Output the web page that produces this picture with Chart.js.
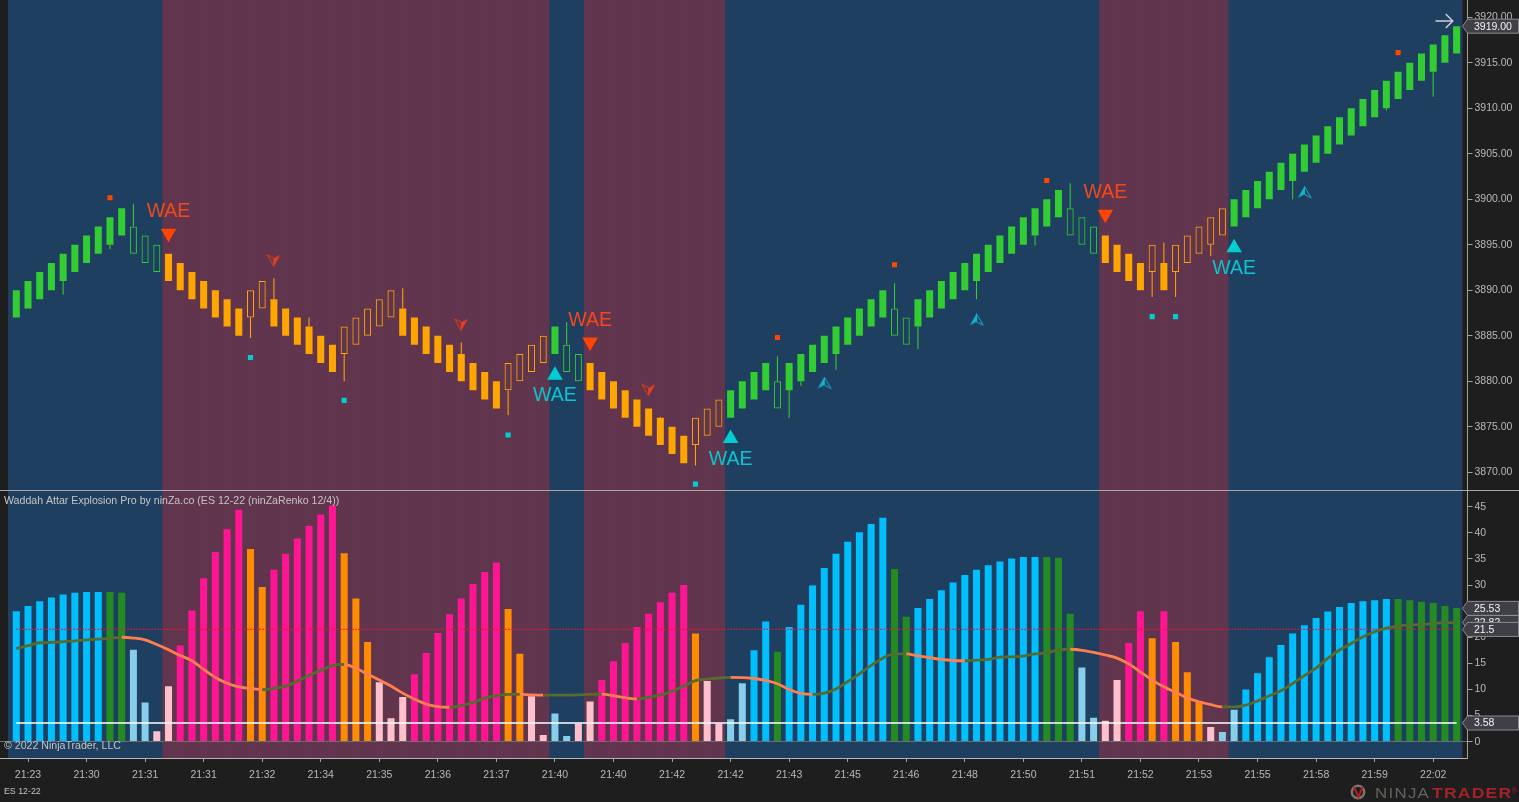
<!DOCTYPE html>
<html>
<head>
<meta charset="utf-8">
<title>Waddah Attar Explosion Pro</title>
<script src="https://cdn.jsdelivr.net/npm/chart.js@4"></script>
<style>
    html, body { margin: 0; padding: 0; background: #1e1e1e; overflow: hidden; }
    canvas { display: block; }
    #divider { height: 1px; background: #a8a8a8; }
</style>
</head>
<body>
<canvas id="pricePane" width="1519" height="490"></canvas>
<div id="divider"></div>
<canvas id="oscPane" width="1519" height="311"></canvas>
<script>
// ---- data ----
const barIndex = Array.from({ length: 124 }, (_, i) => i);

const tickBars = [1, 6, 11, 16, 21, 26, 31, 36, 41, 46, 51, 56, 61, 66, 71, 76, 81, 86, 91, 96, 101, 106, 111, 116, 121];
const timeLabels = ["21:23", "21:30", "21:31", "21:31", "21:32", "21:34", "21:35", "21:36", "21:37", "21:40", "21:40", "21:42", "21:42",
    "21:43", "21:45", "21:46", "21:48", "21:50", "21:51", "21:52", "21:53", "21:55", "21:58", "21:59", "22:02"];
const priceTicks = [3870, 3875, 3880, 3885, 3890, 3895, 3900, 3905, 3910, 3915, 3920];
const oscTicks = [0, 5, 10, 15, 20, 25, 30, 35, 40, 45];

const bodyLow = [3887, 3888, 3889, 3890, 3891, 3892, 3893, 3894, 3895, 3896,
    3894, 3893, 3892, 3891, 3890, 3889, 3888, 3887, 3886, 3885,
    3887, 3888, 3886, 3885, 3884, 3883, 3882, 3881, 3883, 3884,
    3885, 3886, 3887, 3885, 3884, 3883, 3882, 3881, 3880, 3879,
    3878, 3877, 3879, 3880, 3881, 3882, 3883, 3881, 3880, 3879,
    3878, 3877, 3876, 3875, 3874, 3873, 3872, 3871, 3873, 3874,
    3875, 3876, 3877, 3878, 3879, 3877, 3879, 3880, 3881, 3882,
    3883, 3884, 3885, 3886, 3887, 3885, 3884, 3886, 3887, 3888,
    3889, 3890, 3891, 3892, 3893, 3894, 3895, 3896, 3897, 3898,
    3896, 3895, 3894, 3893, 3892, 3891, 3890, 3892, 3890, 3892,
    3893, 3894, 3895, 3896, 3897, 3898, 3899, 3900, 3901, 3902,
    3903, 3904, 3905, 3906, 3907, 3908, 3909, 3910, 3911, 3912,
    3913, 3914, 3915, 3916];
const bodyHigh = [3890, 3891, 3892, 3893, 3894, 3895, 3896, 3897, 3898, 3899,
    3897, 3896, 3895, 3894, 3893, 3892, 3891, 3890, 3889, 3888,
    3890, 3891, 3889, 3888, 3887, 3886, 3885, 3884, 3886, 3887,
    3888, 3889, 3890, 3888, 3887, 3886, 3885, 3884, 3883, 3882,
    3881, 3880, 3882, 3883, 3884, 3885, 3886, 3884, 3883, 3882,
    3881, 3880, 3879, 3878, 3877, 3876, 3875, 3874, 3876, 3877,
    3878, 3879, 3880, 3881, 3882, 3880, 3882, 3883, 3884, 3885,
    3886, 3887, 3888, 3889, 3890, 3888, 3887, 3889, 3890, 3891,
    3892, 3893, 3894, 3895, 3896, 3897, 3898, 3899, 3900, 3901,
    3899, 3898, 3897, 3896, 3895, 3894, 3893, 3895, 3893, 3895,
    3896, 3897, 3898, 3899, 3900, 3901, 3902, 3903, 3904, 3905,
    3906, 3907, 3908, 3909, 3910, 3911, 3912, 3913, 3914, 3915,
    3916, 3917, 3918, 3919];
// U solid green, u hollow green, D solid orange, d hollow orange
const candleKinds = "UUUUUUUUUU uuu DDDDDDD dd DDDDDD ddddd DDDDDDDDD dddd U uu DDDDDDDDD ddd UUUU u UUUUUUUUU uu UUUUUUUUUUUUU uuu DDDD d D ddddd UUUUUUUUUUUUUUUUUUUU".replace(/ /g, "");

const wickUpBars = [10, 22, 25, 33, 38, 47, 55, 65, 75, 90, 98];
const wickUpTips = [3899.5, 3891.3, 3887, 3890.2, 3884.25, 3886.5, 3876.1, 3882.75, 3890.75, 3901.75, 3895.25];
const wickDownBars = [4, 8, 20, 28, 42, 58, 66, 67, 70, 77, 82, 87, 97, 99, 102, 109, 117, 121];
const wickDownTips = [3889.5, 3894.5, 3884.75, 3880, 3876.25, 3870.75, 3876, 3879.5, 3881.25, 3883.5, 3889, 3894.9, 3889.25, 3889.25, 3893.75, 3900, 3909.75, 3911.25];

// maroon stretches, first and last bar
const bearBands = [[13, 45], [49, 60], [93, 103]];

const redDotBars = [8, 65, 75, 88, 118];
const redDotPrices = [3900.15, 3884.8, 3892.8, 3902.05, 3916.1];
const cyanDotBars = [20, 28, 42, 58, 97, 99];
const cyanDotPrices = [3882.6, 3877.9, 3874.1, 3868.7, 3887.1, 3887.1];

const waeSellBars = [13, 49, 93];
const waeSellPrices = [3896.25, 3884.3, 3898.35];
const waeSellTextPrices = [3898.6, 3886.65, 3900.7];
const waeBuyBars = [46, 61, 104];
const waeBuyPrices = [3880.65, 3873.7, 3894.65];
const waeBuyTextPrices = [3878.4, 3871.4, 3892.4];

const arrowDownBars = [22, 38, 54];
const arrowDownPrices = [3893.3, 3886.25, 3879.05];
const arrowUpBars = [69, 82, 110];
const arrowUpPrices = [3879.8, 3886.75, 3900.75];

const histValues = [25.0, 26.0, 26.9, 27.6, 28.2, 28.5, 28.65, 28.65, 28.65, 28.5,
    17.6, 7.5, 2.0, 10.6, 18.4, 25.1, 31.3, 36.3, 40.7, 44.4,
    36.9, 29.6, 32.9, 36.0, 38.9, 41.35, 43.5, 45.2, 36.1, 27.4,
    19.1, 11.4, 4.5, 8.55, 12.9, 17.0, 20.8, 24.4, 27.4, 30.2,
    32.5, 34.3, 25.4, 16.85, 8.7, 1.3, 5.4, 1.1, 3.5, 7.7,
    11.8, 15.4, 18.9, 21.95, 24.5, 26.7, 28.5, 30.0, 20.7, 11.6,
    3.5, 4.3, 11.2, 17.5, 23.0, 17.2, 21.95, 26.2, 29.9, 33.25,
    36.0, 38.3, 40.1, 41.7, 42.9, 33.05, 23.9, 25.6, 27.3, 29.0,
    30.5, 31.9, 32.9, 33.8, 34.5, 35.1, 35.35, 35.35, 35.35, 35.2,
    24.5, 14.2, 4.6, 4.0, 11.8, 18.9, 25.0, 19.8, 25.0, 19.1,
    13.3, 7.65, 2.8, 1.85, 6.1, 10.0, 13.1, 16.15, 18.5, 20.7,
    22.3, 23.7, 24.95, 25.8, 26.55, 26.9, 27.1, 27.3, 27.3, 27.1,
    26.8, 26.55, 26.0, 25.6];
// B deep sky blue, S sky blue, G forest green, D deep pink, P pink, O dark orange
const histKinds = "BBBBBBBB GG SS PP DDDDDD OO DDDDDD OOO PPP DDDDDDDD OO PP SS PP DDDDDDDD O PP SS BB G BBBBBBBBB GG BBBBBBBBBBB GGG SS PP DD O D OOO P SS BBBBBBBBBBBBB GGGGGG".replace(/ /g, "");

const signalLine = [17.8, 18.4, 18.95, 19.0, 19.15, 19.3, 19.5, 19.65, 19.8, 20.0,
    19.85, 19.5, 18.6, 17.6, 16.5, 15.5, 13.85, 12.3, 11.2, 10.5,
    10.2, 9.95, 10.2, 10.65, 11.6, 12.7, 13.65, 14.55, 14.8, 14.05,
    12.95, 11.8, 10.65, 9.3, 8.15, 7.2, 6.7, 6.6, 6.9, 7.5,
    8.35, 8.8, 9.05, 9.05, 8.95, 8.9, 8.9, 8.9, 8.95, 9.05,
    9.1, 8.8, 8.4, 8.2, 8.5, 8.9, 9.65, 10.65, 11.7, 12.0,
    12.2, 12.3, 12.28, 12.1, 11.75, 11.1, 10.0, 9.25, 9.05, 9.3,
    10.1, 11.5, 13.0, 14.6, 16.0, 16.8, 16.8, 16.45, 16.1, 15.75,
    15.55, 15.5, 15.6, 15.75, 16.2, 16.25, 16.4, 16.8, 17.0, 17.6,
    17.7, 17.5, 17.1, 16.6, 16.0, 14.9, 13.35, 11.8, 10.5, 9.45,
    8.4, 7.65, 7.1, 6.65, 6.65, 7.0, 7.8, 8.8, 9.75, 11.15,
    12.65, 14.1, 15.95, 17.55, 18.8, 20.1, 21.05, 21.75, 22.15, 22.35,
    22.45, 22.6, 22.8, 22.8];
const deadZone = 3.58;
const levelLine = 21.5;

const lastPrice = 3919;
const oscFlagValues = [25.53, 22.82, 21.5, 3.58];
const oscFlagLabels = ["25.53", "22.82", "21.5", "3.58"];

// ---- look ----
const FONT = "'Liberation Sans', Arial, sans-serif";
const TEXT_COLOR = "#b8b8b8";
const AXIS_COLOR = "#a0a0a0";
const BLUE_BG = "#1f3f61";
const MAROON_BG = "#61354d";
const SELL_RED = "#ff4500";
const BUY_CYAN = "#00ced1";

// window of bar numbers shown on the x scale; the plot fill stops short of the axis line
const xRange = { min: -1.392, max: 123.93 };
const plotEdges = { left: -0.71, right: 123.5 };
const priceRange = { min: 3868.05, max: 3921.88 };
const oscRange = { min: -3.12, max: 48 };

const candleColors = { U: "#32cd32", u: "#32cd32", D: "#ffa500", d: "#ffa500" };
const histColors = { B: "#00bfff", S: "#87ceeb", G: "#228b22", D: "#ff1493", P: "#ffc0cb", O: "#ff8c00" };

function bandData(low, high) {
    return barIndex.map(i => bearBands.some(b => i >= b[0] && i <= b[1]) ? [low, high] : null);
}

function wickData(bars, tips, edge) {
    return barIndex.map(i => {
        const at = bars.indexOf(i);
        return at < 0 ? null : [tips[at], edge[i]];
    });
}

function points(bars, values) {
    return bars.map((bar, i) => ({ x: bar, y: values[i] }));
}

// small paper plane marker, used as a point style
function arrowSprite(color) {
    const c = document.createElement("canvas");
    c.width = 15;
    c.height = 13;
    const g = c.getContext("2d");
    g.fillStyle = color;
    g.strokeStyle = color;
    g.lineWidth = 1;
    g.beginPath();
    g.moveTo(7.5, 0.5);
    g.lineTo(0.8, 12);
    g.lineTo(7.5, 8.5);
    g.closePath();
    g.fill();
    g.beginPath();
    g.moveTo(7.5, 0.5);
    g.lineTo(14.2, 12);
    g.lineTo(7.5, 8.5);
    g.closePath();
    g.stroke();
    return c;
}

// blue fill behind the bands
const paneBackground = {
    id: "paneBackground",
    beforeDraw(chart) {
        const { ctx, chartArea, scales } = chart;
        const left = scales.x.getPixelForValue(plotEdges.left);
        const right = scales.x.getPixelForValue(plotEdges.right);
        ctx.save();
        ctx.fillStyle = BLUE_BG;
        ctx.fillRect(left, chartArea.top, right - left, chartArea.bottom - chartArea.top);
        ctx.restore();
    }
};

function drawFlag(ctx, y, text) {
    ctx.save();
    ctx.beginPath();
    ctx.moveTo(1462.5, y);
    ctx.lineTo(1467.5, y - 7);
    ctx.lineTo(1518.5, y - 7);
    ctx.lineTo(1518.5, y + 7);
    ctx.lineTo(1467.5, y + 7);
    ctx.closePath();
    ctx.fillStyle = "#3f3f47";
    ctx.fill();
    ctx.strokeStyle = "#8c8c8c";
    ctx.lineWidth = 1;
    ctx.stroke();
    ctx.fillStyle = "#f2f2f2";
    ctx.font = "10.5px " + FONT;
    ctx.textAlign = "left";
    ctx.textBaseline = "middle";
    ctx.fillText(text, 1474, y + 0.5);
    ctx.restore();
}

const priceOverlay = {
    id: "priceOverlay",
    afterDraw(chart) {
        const { ctx, scales } = chart;
        ctx.save();
        ctx.font = "19.5px " + FONT;
        ctx.textAlign = "center";
        ctx.textBaseline = "middle";
        ctx.fillStyle = "#f4481c";
        waeSellBars.forEach((bar, i) => ctx.fillText("WAE", scales.x.getPixelForValue(bar), scales.y.getPixelForValue(waeSellTextPrices[i])));
        ctx.fillStyle = "#0cc4d0";
        waeBuyBars.forEach((bar, i) => ctx.fillText("WAE", scales.x.getPixelForValue(bar), scales.y.getPixelForValue(waeBuyTextPrices[i])));

        // arrow on the last bar
        const ax0 = scales.x.getPixelForValue(121.2);
        const ax1 = scales.x.getPixelForValue(122.67);
        const ay = scales.y.getPixelForValue(3919.57);
        ctx.strokeStyle = "#d0d0d0";
        ctx.lineWidth = 1.5;
        ctx.beginPath();
        ctx.moveTo(ax0, ay);
        ctx.lineTo(ax1, ay);
        ctx.moveTo(ax1 - 7, ay - 7);
        ctx.lineTo(ax1, ay);
        ctx.lineTo(ax1 - 7, ay + 7);
        ctx.stroke();
        ctx.restore();

        drawFlag(ctx, scales.y.getPixelForValue(lastPrice), lastPrice.toFixed(2));
    }
};

// wordmark letters are wide, so the text is stretched sideways
function drawWordmark(ctx, text, x, y, font, stretch, spacing, color) {
    ctx.save();
    ctx.translate(x, y);
    ctx.scale(stretch, 1);
    ctx.font = font;
    ctx.letterSpacing = spacing;
    ctx.fillStyle = color;
    ctx.fillText(text, 0, 0);
    ctx.restore();
}

const oscOverlay = {
    id: "oscOverlay",
    afterDraw(chart) {
        const { ctx, scales, canvas } = chart;
        oscFlagValues.forEach((v, i) => drawFlag(ctx, scales.y.getPixelForValue(v), oscFlagLabels[i]));

        ctx.save();
        ctx.textAlign = "left";
        ctx.textBaseline = "middle";
        ctx.fillStyle = "#c4c4c4";
        ctx.font = "10.6px " + FONT;
        ctx.fillText("Waddah Attar Explosion Pro by ninZa.co (ES 12-22 (ninZaRenko 12/4))", 4, 10);
        ctx.fillText("\u00a9 2022 NinjaTrader, LLC", 4, 255);
        ctx.font = "8.8px " + FONT;
        ctx.fillText("ES 12-22", 4, 301);

        // NinjaTrader mark, bottom right
        const markY = canvas.height - 9;
        ctx.strokeStyle = "#7d7468";
        ctx.lineWidth = 2.5;
        ctx.beginPath();
        ctx.arc(1358, markY - 1, 6.2, 0, Math.PI * 2);
        ctx.stroke();
        ctx.strokeStyle = "#b02028";
        ctx.lineWidth = 2;
        ctx.beginPath();
        ctx.moveTo(1354, markY - 6);
        ctx.lineTo(1358.5, markY + 4);
        ctx.lineTo(1362.5, markY - 6);
        ctx.stroke();
        drawWordmark(ctx, "NINJA", 1375, markY + 1, "14px " + FONT, 1.2, "1.1px", "#66625e");
        drawWordmark(ctx, "TRADER", 1432, markY + 1, "bold 14px " + FONT, 1.25, "1px", "#a3222a");
        ctx.fillStyle = "#a3222a";
        ctx.font = "7px " + FONT;
        ctx.fillText("\u00ae", 1512, markY - 2);
        ctx.restore();
    }
};

function baseOptions(scales) {
    return {
        responsive: false,
        animation: false,
        events: [],
        layout: { padding: 0, autoPadding: false },
        plugins: { legend: { display: false }, tooltip: { enabled: false }, title: { display: false } },
        scales: scales
    };
}

// y axis on the right with a fixed width, so both panes line up
function rightAxis(range, tickValues, format, extraGrid) {
    return {
        position: "right",
        min: range.min,
        max: range.max,
        afterBuildTicks: scale => { scale.ticks = tickValues.map(v => ({ value: v })); },
        afterFit: scale => {
            scale.width = 51.5;
            scale.paddingTop = 0;
            scale.paddingBottom = 0;
        },
        border: { color: AXIS_COLOR, z: 2 },
        grid: Object.assign({ drawOnChartArea: false, tickLength: 5, tickColor: AXIS_COLOR }, extraGrid),
        ticks: {
            color: TEXT_COLOR,
            padding: 2,
            font: { family: FONT, size: 10.5 },
            callback: format
        }
    };
}

// ---- price pane ----
const candleBar = { categoryPercentage: 1, grouped: false };

const priceChart = new Chart(document.getElementById("pricePane"), {
    data: {
        labels: barIndex,
        datasets: [
            {
                type: "bar", order: 20, ...candleBar, barPercentage: 1,
                data: bandData(priceRange.min, priceRange.max),
                backgroundColor: MAROON_BG
            },
            {
                type: "bar", order: 12, ...candleBar, barPercentage: 0.09,
                data: wickData(wickUpBars, wickUpTips, bodyHigh),
                backgroundColor: barIndex.map(i => candleColors[candleKinds[i]])
            },
            {
                type: "bar", order: 11, ...candleBar, barPercentage: 0.09,
                data: wickData(wickDownBars, wickDownTips, bodyLow),
                backgroundColor: barIndex.map(i => candleColors[candleKinds[i]])
            },
            {
                type: "bar", order: 10, ...candleBar, barPercentage: 0.6,
                data: barIndex.map(i => [bodyLow[i], bodyHigh[i]]),
                backgroundColor: barIndex.map(i => candleKinds[i] === "U" ? candleColors.U : (candleKinds[i] === "D" ? candleColors.D : "transparent")),
                borderColor: barIndex.map(i => candleColors[candleKinds[i]]),
                borderWidth: barIndex.map(i => "ud".includes(candleKinds[i]) ? 1 : 0),
                borderSkipped: false
            },
            {
                type: "scatter", order: 5, data: points(redDotBars, redDotPrices),
                pointStyle: "rect", pointRadius: 3.6, pointBorderWidth: 0, pointBackgroundColor: SELL_RED
            },
            {
                type: "scatter", order: 5, data: points(cyanDotBars, cyanDotPrices),
                pointStyle: "rect", pointRadius: 3.6, pointBorderWidth: 0, pointBackgroundColor: BUY_CYAN
            },
            {
                type: "scatter", order: 4, data: points(waeSellBars, waeSellPrices),
                pointStyle: "triangle", rotation: 180, pointRadius: 9, pointBorderWidth: 0, pointBackgroundColor: SELL_RED
            },
            {
                type: "scatter", order: 4, data: points(waeBuyBars, waeBuyPrices),
                pointStyle: "triangle", pointRadius: 9, pointBorderWidth: 0, pointBackgroundColor: BUY_CYAN
            },
            {
                type: "scatter", order: 3, data: points(arrowDownBars, arrowDownPrices),
                pointStyle: arrowSprite("#e8401c"), rotation: 180, pointRadius: 7
            },
            {
                type: "scatter", order: 3, data: points(arrowUpBars, arrowUpPrices),
                pointStyle: arrowSprite("#12b5cc"), pointRadius: 7
            }
        ]
    },
    options: baseOptions({
        x: { type: "linear", display: false, offset: false, min: xRange.min, max: xRange.max },
        y: rightAxis(priceRange, priceTicks, v => v.toFixed(2))
    }),
    plugins: [paneBackground, priceOverlay]
});

// ---- oscillator pane ----
const oscChart = new Chart(document.getElementById("oscPane"), {
    data: {
        labels: barIndex,
        datasets: [
            {
                type: "bar", order: 20, categoryPercentage: 1, barPercentage: 1, grouped: false,
                data: bandData(oscRange.min, oscRange.max),
                backgroundColor: MAROON_BG
            },
            {
                type: "bar", order: 10, categoryPercentage: 1, barPercentage: 0.6, grouped: false,
                data: histValues,
                backgroundColor: barIndex.map(i => histColors[histKinds[i]])
            },
            {
                type: "line", order: 5, data: [{ x: 0, y: levelLine }, { x: 123, y: levelLine }],
                borderColor: "#e8143c", borderWidth: 1.4, borderDash: [1.5, 1.5], pointRadius: 0
            },
            {
                type: "line", order: 4, data: [{ x: 0, y: deadZone }, { x: 123, y: deadZone }],
                borderColor: "#ffffff", borderWidth: 1.6, pointRadius: 0
            },
            {
                type: "line", order: 3, data: signalLine,
                borderWidth: 2.8, pointRadius: 0, cubicInterpolationMode: "monotone",
                segment: {
                    borderColor: c => c.p1.parsed.y < c.p0.parsed.y ? "#ff7f50" : "#556b2f"
                }
            }
        ]
    },
    options: baseOptions({
        x: {
            type: "linear",
            offset: false,
            min: xRange.min,
            max: xRange.max,
            afterBuildTicks: scale => { scale.ticks = tickBars.map(v => ({ value: v })); },
            afterFit: scale => {
                scale.height = 44;
                scale.paddingLeft = 0;
                scale.paddingRight = 0;
            },
            border: { color: "#b4b4b4" },
            grid: { offset: false, drawOnChartArea: false, tickLength: 4, tickColor: AXIS_COLOR },
            ticks: {
                color: TEXT_COLOR,
                padding: 7,
                autoSkip: false,
                maxRotation: 0,
                font: { family: FONT, size: 10.5 },
                callback: v => timeLabels[tickBars.indexOf(v)]
            }
        },
        y: rightAxis(oscRange, oscTicks, v => String(v), {
            drawOnChartArea: true,
            z: 1,
            color: c => c.tick && c.tick.value === 0 ? "#6e6e6e" : "transparent"
        })
    }),
    plugins: [paneBackground, oscOverlay]
});
</script>
</body>
</html>
